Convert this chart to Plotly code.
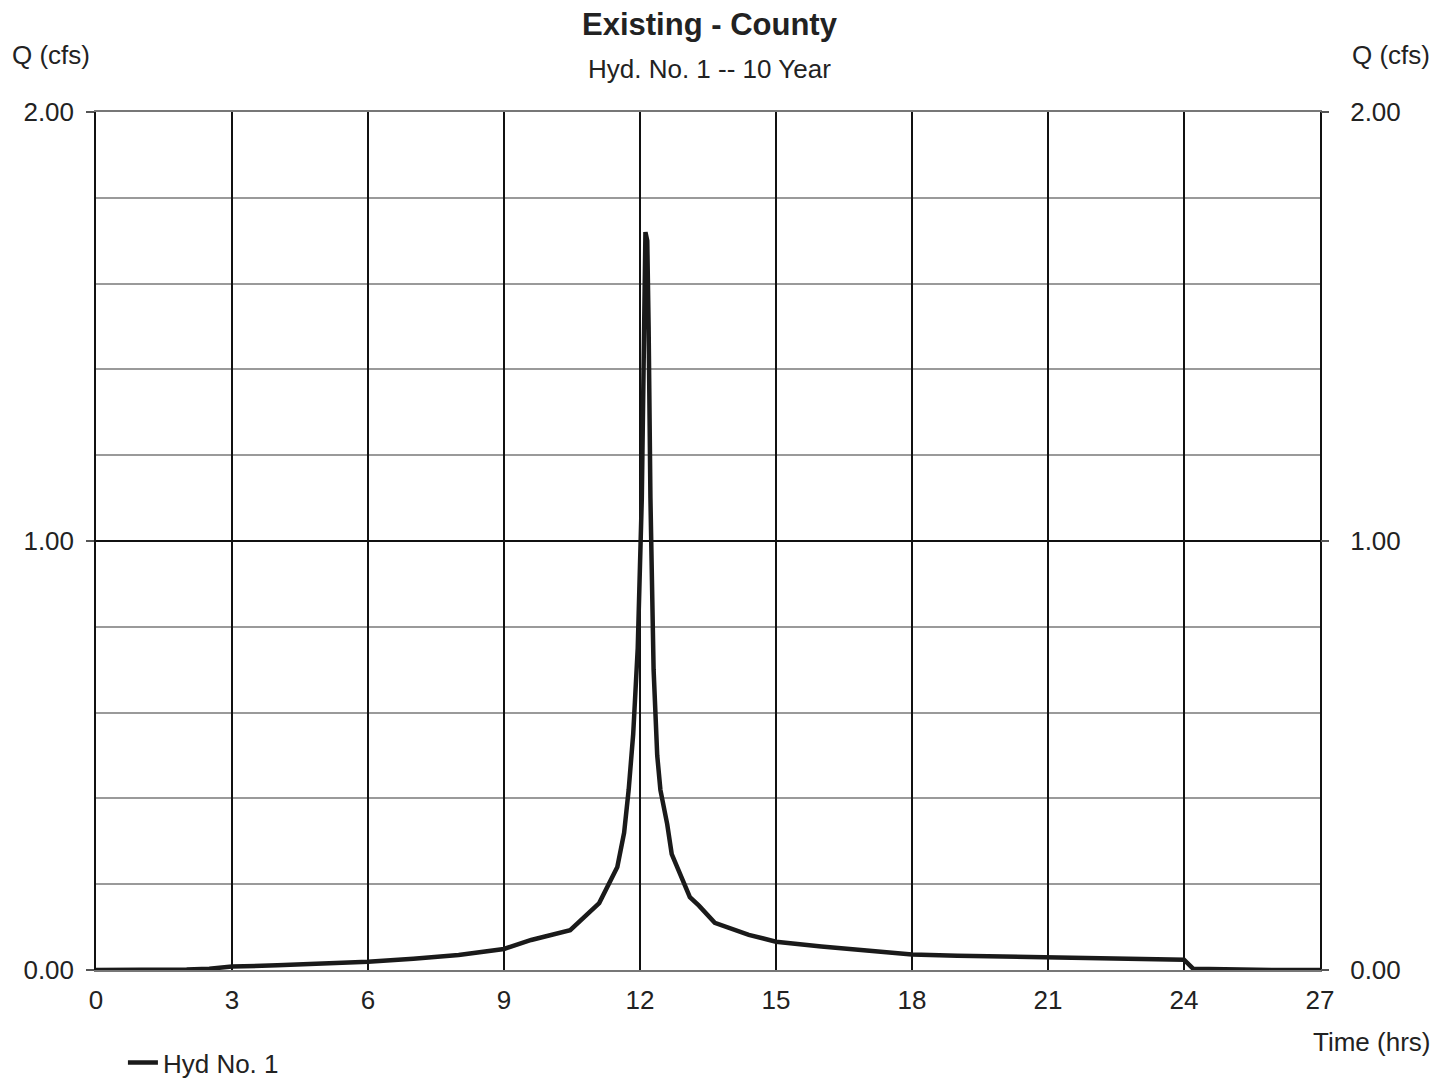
import plotly.graph_objects as go

# Hydrograph data
time_hrs = [0, 1, 2, 2.5, 3, 4, 5, 6, 7, 8, 9, 9.6, 10.46, 11.1, 11.5, 11.65,
            11.75, 11.85, 11.95, 12.04, 12.12, 12.16, 12.19, 12.23, 12.3, 12.38, 12.45,
            12.6, 12.7, 13.1, 13.3, 13.65, 14.4, 15, 16, 17, 18, 19, 20, 21, 22,
            23, 24, 24.2, 25, 26, 27]
flow_cfs = [0.0, 0.0, 0.001, 0.003, 0.008, 0.011, 0.015, 0.019, 0.026, 0.035,
            0.049, 0.07, 0.093, 0.156, 0.24, 0.32, 0.42, 0.55, 0.75, 1.10, 1.72,
            1.70, 1.50, 1.10, 0.70, 0.50, 0.42, 0.34, 0.27, 0.17, 0.15, 0.11, 0.082,
            0.066, 0.055, 0.045, 0.036, 0.033, 0.031, 0.029, 0.027, 0.025, 0.024,
            0.003, 0.001, 0.0, 0.0]

x_ticks = [0, 3, 6, 9, 12, 15, 18, 21, 24, 27]
y_ticks = [0, 1, 2]
y_tick_text = ["0.00", "1.00", "2.00"]

title_text = "Existing - County"
subtitle_text = "Hyd. No. 1 -- 10 Year"
series_name = "Hyd No. 1"

FONT = "Liberation Sans, Arial, sans-serif"
TXT = "#222"
FS = 26

fig = go.Figure()
fig.add_trace(go.Scatter(x=time_hrs, y=flow_cfs, mode="lines", name=series_name,
                         line=dict(color="#1a1a1a", width=4.5)))
fig.add_trace(go.Scatter(x=time_hrs, y=flow_cfs, mode="lines", yaxis="y2",
                         showlegend=False, hoverinfo="skip",
                         line=dict(color="rgba(0,0,0,0)", width=0)))

# page body has an 8px default margin: figure sized to fit viewport
fig.update_layout(
    width=1443, height=1070,
    margin=dict(l=88, r=131, t=104, b=108, autoexpand=False),
    paper_bgcolor="white", plot_bgcolor="white",
    font=dict(family=FONT, size=FS, color=TXT),
    showlegend=True,
    legend=dict(orientation="h", x=0.022, xanchor="left", y=-0.108, yanchor="middle",
                font=dict(size=FS, color=TXT), bgcolor="rgba(0,0,0,0)"),
    xaxis=dict(range=[0, 27], tickvals=x_ticks, ticks="", showgrid=True,
               gridcolor="#111", gridwidth=1.5, zeroline=False,
               showline=True, linecolor="#777", linewidth=2, mirror=True,
               ticklabelstandoff=6, tickfont=dict(size=FS)),
    yaxis=dict(range=[0, 2], tickvals=y_ticks, ticktext=y_tick_text,
               ticks="outside", ticklen=8, tickcolor="#555", tickwidth=2,
               showgrid=True, gridcolor="#111", gridwidth=1.5, zeroline=False,
               showline=True, linecolor="#111", linewidth=1.5, mirror=True,
               ticklabelstandoff=7,
               minor=dict(dtick=0.2, showgrid=True, gridcolor="#9a9a9a", gridwidth=1.5, ticks=""),
               tickfont=dict(size=FS)),
    yaxis2=dict(range=[0, 2], overlaying="y", side="right", matches="y",
                tickvals=y_ticks, ticktext=y_tick_text, ticks="outside", ticklen=8,
                tickcolor="#555", tickwidth=2, showgrid=False, zeroline=False,
                ticklabelstandoff=16, tickfont=dict(size=FS)),
)

annots = [
    dict(text="<b>" + title_text + "</b>", x=0.5016, y=1.1014, font=dict(size=31, color=TXT),
         xanchor="center", yanchor="middle"),
    dict(text=subtitle_text, x=0.5016, y=1.0501, font=dict(size=FS, color=TXT),
         xanchor="center", yanchor="middle"),
    dict(text="Q (cfs)", x=-0.070, y=1.0664, xanchor="left", yanchor="middle",
         font=dict(size=FS, color=TXT)),
    dict(text="Q (cfs)", x=1.0245, y=1.0664, xanchor="left", yanchor="middle",
         font=dict(size=FS, color=TXT)),
    dict(text="Time (hrs)", x=1.0915, y=-0.0839, xanchor="right", yanchor="middle",
         font=dict(size=FS, color=TXT)),
]
for a in annots:
    fig.add_annotation(xref="paper", yref="paper", showarrow=False, **a)

fig.write_html("out.html")
